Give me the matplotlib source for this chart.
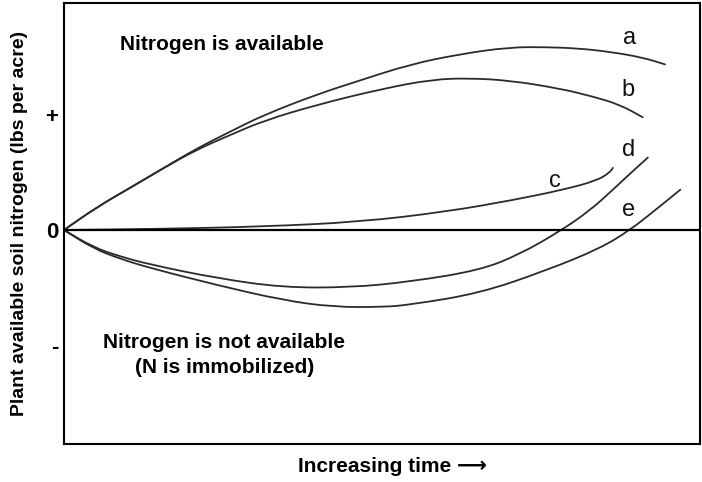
import matplotlib.pyplot as plt
from matplotlib.patches import PathPatch
from matplotlib.path import Path

plt.rcParams["font.family"] = ["Liberation Sans", "DejaVu Sans"]

# time (arbitrary units) and plant available N (arbitrary units)
a_t = [0, 0.52, 1.05, 1.57, 2.09, 2.63, 3.14, 3.98, 4.65, 5.44, 6.23, 7.01, 7.59, 8.07, 8.58, 9.10, 9.45]
a_n = [0, 0.20, 0.37, 0.54, 0.71, 0.86, 1.00, 1.18, 1.30, 1.44, 1.53, 1.59, 1.59, 1.58, 1.55, 1.50, 1.44]

b_t = [0, 0.52, 1.05, 1.57, 2.09, 2.63, 3.14, 3.98, 5.02, 5.80, 6.38, 7.01, 7.80, 8.32, 8.74, 9.10]
b_n = [0, 0.20, 0.37, 0.54, 0.70, 0.83, 0.95, 1.09, 1.23, 1.31, 1.32, 1.30, 1.23, 1.16, 1.09, 0.98]

c_t = [0, 1.57, 3.14, 4.65, 6.02, 7.06, 7.85, 8.38, 8.58, 8.63]
c_n = [0, 0.01, 0.03, 0.07, 0.16, 0.26, 0.35, 0.43, 0.50, 0.54]

d_t = [0, 0.46, 0.88, 1.35, 2.41, 3.44, 4.50, 5.44, 6.54, 7.17, 7.80, 8.27, 8.63, 8.90, 9.18]
d_n = [0, -0.15, -0.23, -0.30, -0.42, -0.50, -0.50, -0.45, -0.35, -0.21, -0.01, 0.17, 0.35, 0.49, 0.63]

e_t = [0, 0.46, 0.88, 1.35, 2.41, 3.44, 4.23, 5.02, 5.44, 6.54, 7.59, 8.43, 8.90, 9.29, 9.69]
e_n = [0, -0.16, -0.25, -0.33, -0.48, -0.61, -0.67, -0.67, -0.65, -0.55, -0.35, -0.16, 0.0, 0.17, 0.35]

curve_labels = ["a", "b", "c", "d", "e"]
label_t = [8.90, 8.87, 7.72, 8.87, 8.87]
label_n = [1.67, 1.22, 0.43, 0.70, 0.17]

y_ticks = [1, 0, -1]
y_tick_labels = ["+", "0", "-"]

LINE_COLOR = "#2b2b2b"


def smooth_path(t, n):
    # quadratic b-spline style path: read points act as control points
    pts = list(zip(t, n))
    verts = [pts[0], ((pts[0][0] + pts[1][0]) / 2, (pts[0][1] + pts[1][1]) / 2)]
    codes = [Path.MOVETO, Path.LINETO]
    for i in range(1, len(pts) - 1):
        mid = ((pts[i][0] + pts[i + 1][0]) / 2, (pts[i][1] + pts[i + 1][1]) / 2)
        verts += [pts[i], mid]
        codes += [Path.CURVE3, Path.CURVE3]
    verts.append(pts[-1])
    codes.append(Path.LINETO)
    return Path(verts, codes)


fig = plt.figure(figsize=(7.02, 4.82), dpi=100)
ax = fig.add_axes([64 / 702, 1 - 444 / 482, 636 / 702, 441 / 482])

ax.axhline(0, color="black", lw=1.6, zorder=3)
for t, n in [(a_t, a_n), (b_t, b_n), (c_t, c_n), (d_t, d_n), (e_t, e_n)]:
    ax.add_patch(PathPatch(smooth_path(t, n), facecolor="none", edgecolor=LINE_COLOR,
                           lw=1.3, capstyle="round", joinstyle="round"))

for lab, t, n in zip(curve_labels, label_t, label_n):
    ax.text(t, n, lab, fontsize=17, ha="center", va="center", color="#111111")

ax.text(2.48, 1.61, "Nitrogen is available", fontsize=15, fontweight="bold",
        ha="center", va="center")
ax.text(2.52, -0.98, "Nitrogen is not available", fontsize=15, fontweight="bold",
        ha="center", va="center")
ax.text(2.52, -1.20, "(N is immobilized)", fontsize=15, fontweight="bold",
        ha="center", va="center")

ax.set_xlim(0, 10)
ax.set_ylim(-1.861, 1.974)
ax.set_xticks([])
ax.set_yticks(y_ticks)
ax.set_yticklabels(y_tick_labels, fontsize=16, fontweight="bold")
ax.tick_params(axis="y", length=0, pad=4)

for s in ax.spines.values():
    s.set_linewidth(1.5)
    s.set_color("black")

ax.set_ylabel("Plant available soil nitrogen (lbs per acre)", fontsize=14, fontweight="bold")
ax.yaxis.set_label_coords(-0.057, 0.5)
ax.set_xlabel("Increasing time \u27f6", fontsize=15, fontweight="bold")
ax.xaxis.set_label_coords(0.517, -0.03)

fig.savefig("out.png", dpi=100)
